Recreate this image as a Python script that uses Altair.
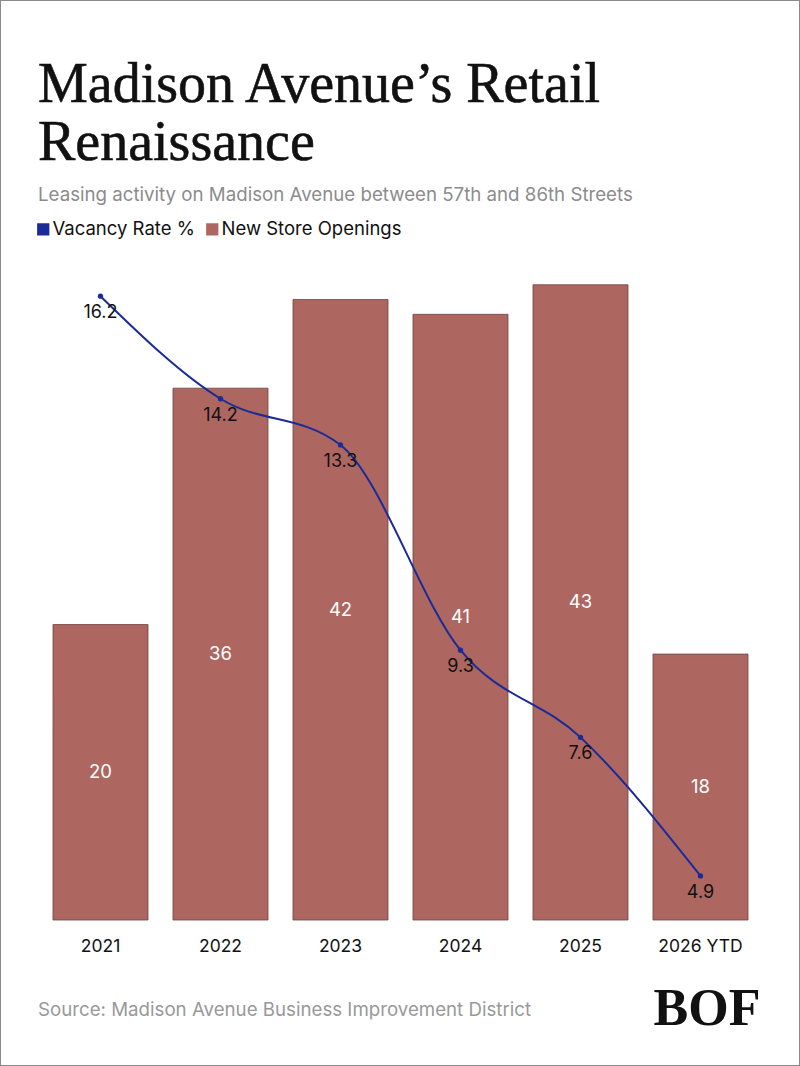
import altair as alt
import pandas as pd

years = ["2021", "2022", "2023", "2024", "2025", "2026 YTD"]
openings = [20, 36, 42, 41, 43, 18]
vacancy = [16.2, 14.2, 13.3, 9.3, 7.6, 4.9]

title_lines = ["Madison Avenue\u2019s Retail", "Renaissance"]
subtitle = "Leasing activity on Madison Avenue between 57th and 86th Streets"
source = "Source: Madison Avenue Business Improvement District"
logo = "BOF"
series_names = ["Vacancy Rate %", "New Store Openings"]

BLUE = "#1a2b99"
BAR = "#ad6660"
SANS = "Inter"
SERIF = "Liberation Serif"

df = pd.DataFrame({"year": years, "openings": openings, "vacancy": vacancy})
df["series"] = series_names[1]
df["mid"] = df["openings"] / 2

W, H = 800, 1066

xscale = alt.Scale(domain=years, range=[53, 748], paddingInner=0.2083, paddingOuter=0)
x = alt.X("year:N", scale=xscale, axis=None, sort=years)
ybar = alt.Scale(domain=[0, 44], range=[920, 270], nice=False, zero=True)
yline = alt.Scale(domain=[4.04, 16.71], range=[920, 270], nice=False, zero=False)

base = alt.Chart(df)

bars = base.mark_bar(stroke="#6e4441", strokeWidth=0.8).encode(
    x=x,
    y=alt.Y("openings:Q", scale=ybar, axis=None),
    color=alt.Color(
        "series:N",
        scale=alt.Scale(domain=series_names, range=[BLUE, BAR]),
        legend=alt.Legend(
            orient="none", legendX=34, legendY=220, direction="horizontal",
            title=None, symbolType="square", symbolSize=150, symbolStrokeWidth=0,
            labelFont=SANS, labelFontSize=18.5, labelColor="#111111", labelLimit=0,
            labelOffset=0, columnPadding=8, symbolOffset=0, padding=0,
        ),
    ),
)

bar_labels = base.mark_text(color="white", font=SANS, fontSize=18.5, baseline="middle").encode(
    x=x,
    y=alt.Y("mid:Q", scale=ybar, axis=None),
    text=alt.Text("openings:Q"),
)

line = base.mark_line(interpolate="monotone", color=BLUE, strokeWidth=2).encode(
    x=x,
    y=alt.Y("vacancy:Q", scale=yline, axis=None),
)
points = base.mark_point(filled=True, color=BLUE, size=28, opacity=1).encode(
    x=x,
    y=alt.Y("vacancy:Q", scale=yline, axis=None),
)
line_labels = base.mark_text(color="#111111", font=SANS, fontSize=18, dy=17, baseline="middle").encode(
    x=x,
    y=alt.Y("vacancy:Q", scale=yline, axis=None),
    text=alt.Text("vacancy:Q", format=".1f"),
)

x_labels = base.mark_text(color="#111111", font=SANS, fontSize=17.5, baseline="middle").encode(
    x=x,
    y=alt.value(947),
    text="year:N",
)


def annot(text, xv, yv, **kw):
    return alt.Chart(alt.Data(values=[{"t": text}])).mark_text(baseline="alphabetic", **kw).encode(
        x=alt.value(xv), y=alt.value(yv), text="t:N"
    )


t1 = annot(title_lines[0], 38, 102, font=SERIF, fontSize=56, color="#111111", align="left",
           stroke="#111111", strokeWidth=0.6)
t2 = annot(title_lines[1], 38, 160, font=SERIF, fontSize=56, color="#111111", align="left",
           stroke="#111111", strokeWidth=0.6)
sub = annot(subtitle, 38, 201, font=SANS, fontSize=18.7, color="#8c8c8c", align="left")
src = annot(source, 38, 1016, font=SANS, fontSize=18.7, color="#999999", align="left")
bof = annot(logo, 707, 1025, font=SERIF, fontSize=52, fontWeight="bold", color="#111111", align="center")

chart = alt.layer(
    bars, bar_labels, line, points, line_labels, x_labels, t1, t2, sub, src, bof
).resolve_scale(y="independent").properties(
    width=W, height=H, padding=0, autosize=alt.AutoSizeParams(type="none"),
    background="white",
).configure_view(stroke="#8a8a8a", strokeWidth=2)

chart.save("out.html", embed_options={"renderer": "svg", "actions": False})
